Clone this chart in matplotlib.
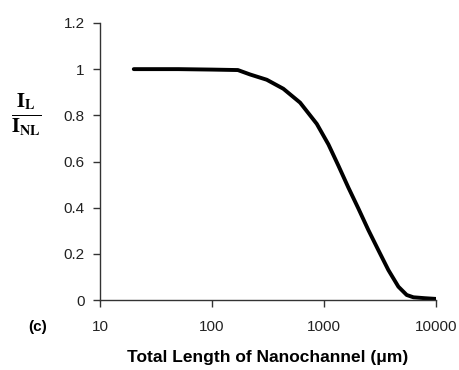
import matplotlib
matplotlib.use("Agg")
import matplotlib.pyplot as plt
from matplotlib.ticker import FixedLocator, NullLocator

# curve (length in um, I_L / I_NL)
length_um = [20, 50, 100, 170, 218, 308, 433, 611, 861, 1094, 1343, 1649, 2023,
             2488, 3055, 3752, 4610, 5470, 6280, 8000, 10000]
ratio = [1.0, 1.0, 0.998, 0.996, 0.977, 0.954, 0.915, 0.855, 0.763, 0.674, 0.582,
         0.487, 0.397, 0.303, 0.216, 0.13, 0.058, 0.022, 0.012, 0.008, 0.005]

x_ticks = [10, 100, 1000, 10000]
x_tick_labels = ["10", "100", "1000", "10000"]
y_ticks = [0, 0.2, 0.4, 0.6, 0.8, 1.0, 1.2]
y_tick_labels = ["0", "0.2", "0.4", "0.6", "0.8", "1", "1.2"]

plt.rcParams["font.family"] = ["Liberation Sans", "DejaVu Sans"]
plt.rcParams["mathtext.fontset"] = "stix"

fig = plt.figure(figsize=(4.59, 3.70), dpi=100)
ax = fig.add_axes([0.218, 0.189, 0.732, 0.749])

ax.plot(length_um, ratio, color="black", linewidth=2.8,
        solid_capstyle="round", solid_joinstyle="round")

ax.set_xscale("log")
ax.set_xlim(10, 10000)
ax.set_ylim(0, 1.2)
ax.xaxis.set_major_locator(FixedLocator(x_ticks))
ax.xaxis.set_minor_locator(NullLocator())
ax.set_xticklabels(x_tick_labels)
ax.set_yticks(y_ticks)
ax.set_yticklabels(y_tick_labels)

for side in ["top", "right"]:
    ax.spines[side].set_visible(False)
for side in ["left", "bottom"]:
    ax.spines[side].set_color("#333333")
    ax.spines[side].set_linewidth(1.0)
ax.tick_params(axis="both", direction="out", length=5, width=1.0, color="#333333",
               labelsize=11, labelcolor="#222222")
ax.tick_params(axis="x", pad=9)
ax.tick_params(axis="y", pad=6)

ax.set_xlabel("Total Length of Nanochannel (\u03bcm)", fontsize=12.5, fontweight="bold",
              labelpad=12)

fig.text(26 / 459, 1 - 115 / 370,
         r"$\frac{\mathbf{I}_{\mathbf{L}}}{\mathbf{I}_{\mathbf{NL}}}$",
         fontsize=21, ha="center", va="center")
fig.text(28 / 459, 1 - 327 / 370, "(c)", fontsize=11, fontweight="bold",
         ha="left", va="center")

fig.savefig("out.png", dpi=100)
